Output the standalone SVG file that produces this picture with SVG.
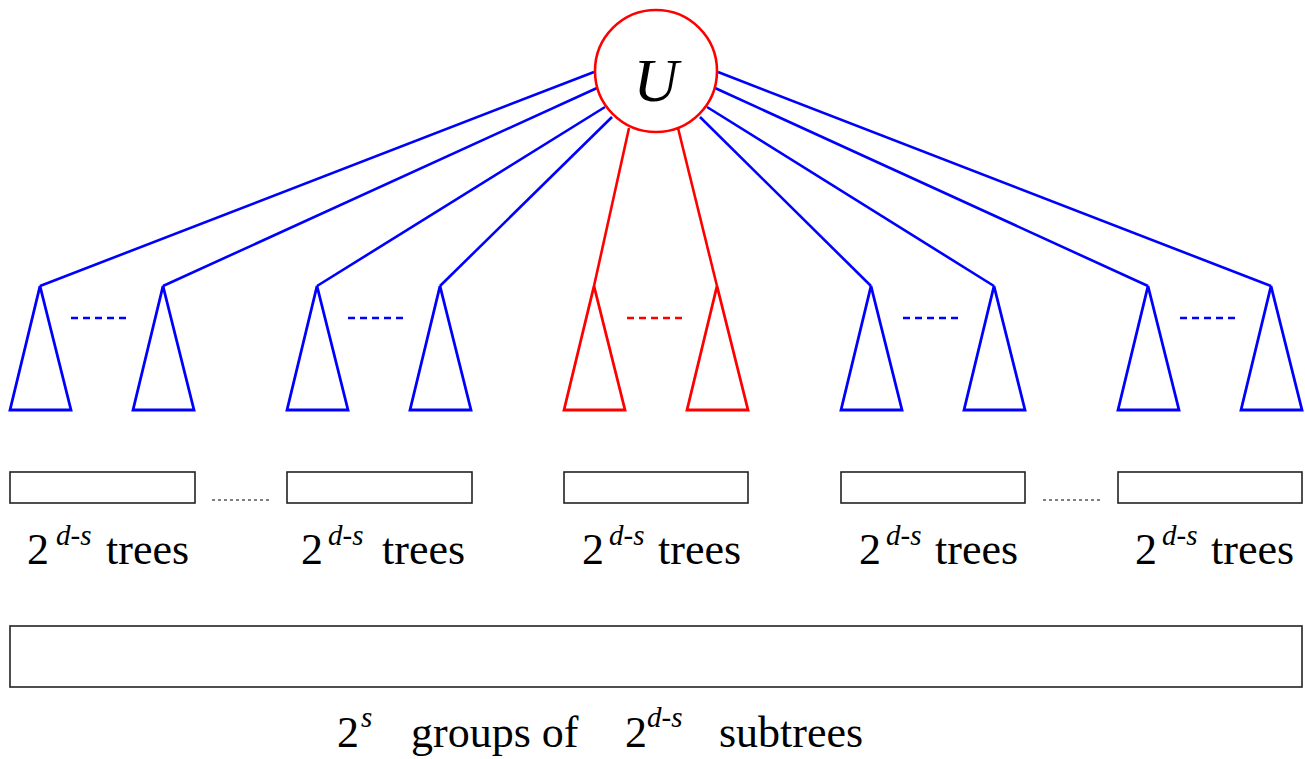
<svg xmlns="http://www.w3.org/2000/svg" width="1305" height="759" viewBox="0 0 1305 759">
  <style>
    .blue { stroke: #0000ff; }
    .red { stroke: #ff0000; }
    .edge { stroke-width: 2.6; fill: none; }
    .tri { stroke-width: 2.8; fill: none; stroke-linejoin: miter; }
    .dash { stroke-width: 2.6; stroke-dasharray: 7 5; fill: none; }
    .dots { stroke: #000; stroke-width: 1.2; stroke-dasharray: 3 3; fill: none; }
    .box { fill: #fff; stroke: #222; stroke-width: 1.6; }
    text { font-family: 'Liberation Serif', 'Times New Roman', Times, 'DejaVu Serif', 'Noto Serif', serif; fill: #000; }
    .big { font-size: 44px; }
    .sup { font-size: 29px; font-style: italic; }
  </style>

  <!-- connectors from the root to the subtree apexes -->
  <g id="connectors">
    <line class="edge blue" x1="594" y1="72" x2="40" y2="286"/>
    <line class="edge blue" x1="597" y1="88" x2="163" y2="286"/>
    <line class="edge blue" x1="605" y1="107" x2="317" y2="286"/>
    <line class="edge blue" x1="612" y1="117" x2="440" y2="286"/>
    <line class="edge red" x1="629" y1="128" x2="594" y2="286"/>
    <line class="edge red" x1="678" y1="128" x2="717" y2="286"/>
    <line class="edge blue" x1="700" y1="117" x2="871" y2="286"/>
    <line class="edge blue" x1="707" y1="107" x2="994" y2="286"/>
    <line class="edge blue" x1="715" y1="88" x2="1148" y2="286"/>
    <line class="edge blue" x1="718" y1="72" x2="1271" y2="286"/>
  </g>

  <!-- root node -->
  <g id="root">
    <circle cx="656" cy="71" r="61" fill="#fff" stroke="#ff0000" stroke-width="2.6"/>
    <text x="656" y="101" font-size="62" font-style="italic" text-anchor="middle">U</text>
  </g>

  <!-- subtree groups -->
  <g id="group1">
    <polygon class="tri blue" points="40,286 71,410 10,410"/>
    <polygon class="tri blue" points="163,286 194,410 133,410"/>
    <line class="dash blue" x1="71" y1="318" x2="128" y2="318"/>
  </g>
  <g id="group2">
    <polygon class="tri blue" points="317,286 348,410 287,410"/>
    <polygon class="tri blue" points="440,286 471,410 410,410"/>
    <line class="dash blue" x1="348" y1="318" x2="405" y2="318"/>
  </g>
  <g id="group3">
    <polygon class="tri red" points="594,286 625,410 564,410"/>
    <polygon class="tri red" points="717,286 748,410 687,410"/>
    <line class="dash red" x1="627" y1="318" x2="684" y2="318"/>
  </g>
  <g id="group4">
    <polygon class="tri blue" points="871,286 902,410 841,410"/>
    <polygon class="tri blue" points="994,286 1025,410 964,410"/>
    <line class="dash blue" x1="903" y1="318" x2="960" y2="318"/>
  </g>
  <g id="group5">
    <polygon class="tri blue" points="1148,286 1179,410 1118,410"/>
    <polygon class="tri blue" points="1271,286 1302,410 1241,410"/>
    <line class="dash blue" x1="1180" y1="318" x2="1237" y2="318"/>
  </g>

  <!-- per-group brackets and labels -->
  <g id="box1">
    <rect class="box" x="10" y="472" width="185" height="31"/>
    <text class="big" x="27" y="564">2</text>
    <text class="sup" x="56" y="545">d-s</text>
    <text class="big" x="106" y="564">trees</text>
  </g>
  <line id="gap1" class="dots" x1="212" y1="500" x2="270" y2="500"/>
  <g id="box2">
    <rect class="box" x="287" y="472" width="185" height="31"/>
    <text class="big" x="301" y="564">2</text>
    <text class="sup" x="328" y="545">d-s</text>
    <text class="big" x="382" y="564">trees</text>
  </g>
  <g id="box3">
    <rect class="box" x="564" y="472" width="184" height="31"/>
    <text class="big" x="582" y="564">2</text>
    <text class="sup" x="609" y="545">d-s</text>
    <text class="big" x="658" y="564">trees</text>
  </g>
  <g id="box4">
    <rect class="box" x="841" y="472" width="184" height="31"/>
    <text class="big" x="859" y="564">2</text>
    <text class="sup" x="886" y="545">d-s</text>
    <text class="big" x="935" y="564">trees</text>
  </g>
  <line id="gap2" class="dots" x1="1043" y1="500" x2="1101" y2="500"/>
  <g id="box5">
    <rect class="box" x="1118" y="472" width="184" height="31"/>
    <text class="big" x="1135" y="564">2</text>
    <text class="sup" x="1162" y="545">d-s</text>
    <text class="big" x="1211" y="564">trees</text>
  </g>

  <!-- overall bracket -->
  <g id="total">
    <rect class="box" x="10" y="626" width="1292" height="61"/>
    <text class="big" x="337" y="747">2</text>
    <text class="sup" x="361" y="727" font-size="24">s</text>
    <text class="big" x="411" y="747">groups of</text>
    <text class="big" x="625" y="747">2</text>
    <text class="sup" x="647" y="727">d-s</text>
    <text class="big" x="719" y="747">subtrees</text>
  </g>
</svg>
